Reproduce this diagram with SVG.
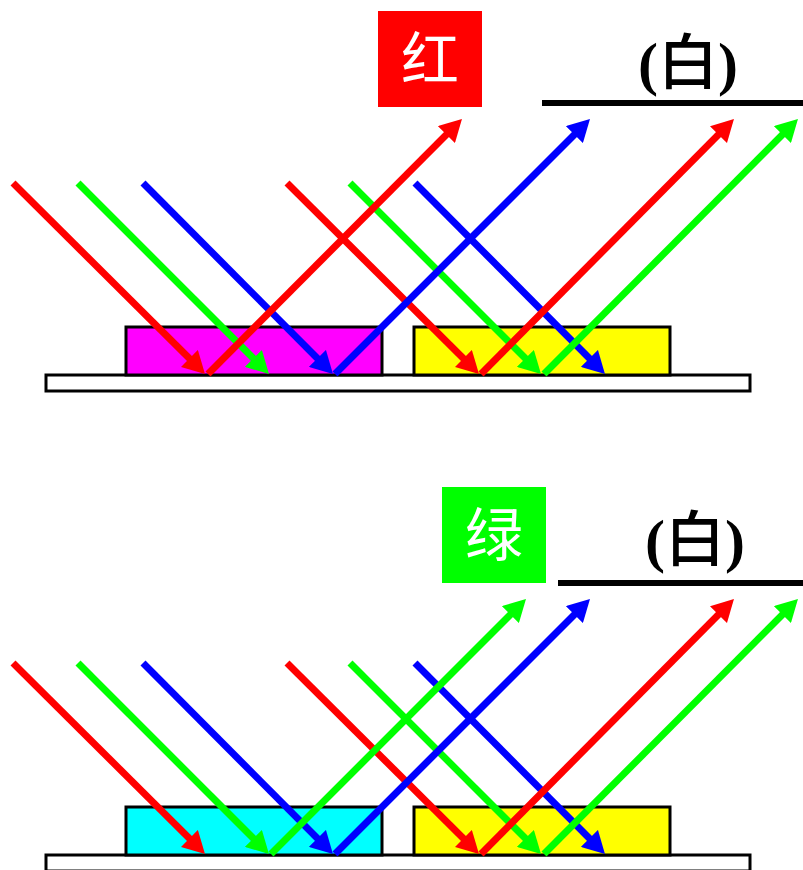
<svg xmlns="http://www.w3.org/2000/svg" width="803" height="870" viewBox="0 0 803 870">
  <style>
    .plate { fill: #ffffff; stroke: #000000; stroke-width: 3; }
    .filter { stroke: #000000; stroke-width: 3; }
    .ray { fill: none; stroke-width: 7; stroke-linecap: butt; }
    .r { stroke: #ff0000; marker-end: url(#headR); }
    .g { stroke: #00ff00; marker-end: url(#headG); }
    .b { stroke: #0000ff; marker-end: url(#headB); }
    .tag { fill: #ffffff; font-family: "Noto Sans CJK SC", sans-serif; font-size: 58px; text-anchor: middle; }
    .white { fill: #000000; font-family: "Liberation Serif", "Noto Sans CJK SC", serif; font-size: 60px; font-weight: bold; text-anchor: middle; }
    .han { font-weight: 500; }
    .rule { stroke: #000000; stroke-width: 6; }
  </style>
  <defs>
    <marker id="headR" viewBox="0 -12 22 24" markerWidth="22" markerHeight="24" refX="10" refY="0" orient="auto" markerUnits="userSpaceOnUse">
      <path d="M0,-12 L22,0 L0,12 Z" fill="#ff0000"/>
    </marker>
    <marker id="headG" viewBox="0 -12 22 24" markerWidth="22" markerHeight="24" refX="10" refY="0" orient="auto" markerUnits="userSpaceOnUse">
      <path d="M0,-12 L22,0 L0,12 Z" fill="#00ff00"/>
    </marker>
    <marker id="headB" viewBox="0 -12 22 24" markerWidth="22" markerHeight="24" refX="10" refY="0" orient="auto" markerUnits="userSpaceOnUse">
      <path d="M0,-12 L22,0 L0,12 Z" fill="#0000ff"/>
    </marker>
  </defs>

  <rect width="803" height="870" fill="#ffffff"/>

  <!-- upper scene: red light -->
  <g id="plate-top">
    <rect class="plate" x="46" y="375" width="704" height="16"/>
  </g>
  <g id="magenta-top">
    <rect class="filter" x="126" y="327" width="256" height="48" fill="#ff00ff"/>
  </g>
  <g id="yellow-top">
    <rect class="filter" x="414" y="327" width="256" height="48" fill="#ffff00"/>
  </g>
  <g id="label-red">
    <rect x="378" y="11" width="104" height="96" fill="#ff0000"/>
    <text class="tag" x="430" y="80">红</text>
  </g>
  <g id="label-white-top">
    <line class="rule" x1="542" y1="103" x2="803" y2="103"/>
    <text class="white" x="688" y="84">(<tspan class="han">白</tspan>)</text>
  </g>

  <!-- lower scene: green light -->
  <g id="plate-bottom">
    <rect class="plate" x="46" y="855" width="704" height="16"/>
  </g>
  <g id="cyan-bottom">
    <rect class="filter" x="126" y="807" width="256" height="48" fill="#00ffff"/>
  </g>
  <g id="yellow-bottom">
    <rect class="filter" x="414" y="807" width="256" height="48" fill="#ffff00"/>
  </g>
  <g id="label-green">
    <rect x="442" y="487" width="104" height="96" fill="#00ff00"/>
    <text class="tag" x="494" y="556">绿</text>
  </g>
  <g id="label-white-bottom">
    <line class="rule" x1="558" y1="583" x2="803" y2="583"/>
    <text class="white" x="695" y="561">(<tspan class="han">白</tspan>)</text>
  </g>

  <!-- light rays -->
  <g id="connectors" class="ray">
    <!-- upper: incident -->
    <path class="ray r" d="M13,183 L196.5,365.5"/>
    <path class="ray g" d="M78,183 L260.5,365.5"/>
    <path class="ray b" d="M143,183 L324.5,365.5"/>
    <path class="ray r" d="M287,183 L470.5,365.5"/>
    <path class="ray g" d="M350,183 L532.5,365.5"/>
    <path class="ray b" d="M415,183 L596.5,365.5"/>
    <!-- upper: reflected -->
    <path class="ray r" d="M208,374 L453.5,127.5"/>
    <path class="ray b" d="M335,374 L581.5,127.5"/>
    <path class="ray r" d="M481,374 L725.5,127.5"/>
    <path class="ray g" d="M544,374 L789.5,127.5"/>

    <!-- lower: incident -->
    <path class="ray r" d="M13,663 L196.5,845.5"/>
    <path class="ray g" d="M78,663 L260.5,845.5"/>
    <path class="ray b" d="M143,663 L324.5,845.5"/>
    <path class="ray r" d="M287,663 L470.5,845.5"/>
    <path class="ray g" d="M350,663 L532.5,845.5"/>
    <path class="ray b" d="M415,663 L596.5,845.5"/>
    <!-- lower: reflected -->
    <path class="ray g" d="M271,854 L517.5,607.5"/>
    <path class="ray b" d="M335,854 L581.5,607.5"/>
    <path class="ray r" d="M481,854 L725.5,607.5"/>
    <path class="ray g" d="M544,854 L789.5,607.5"/>
  </g>
</svg>
